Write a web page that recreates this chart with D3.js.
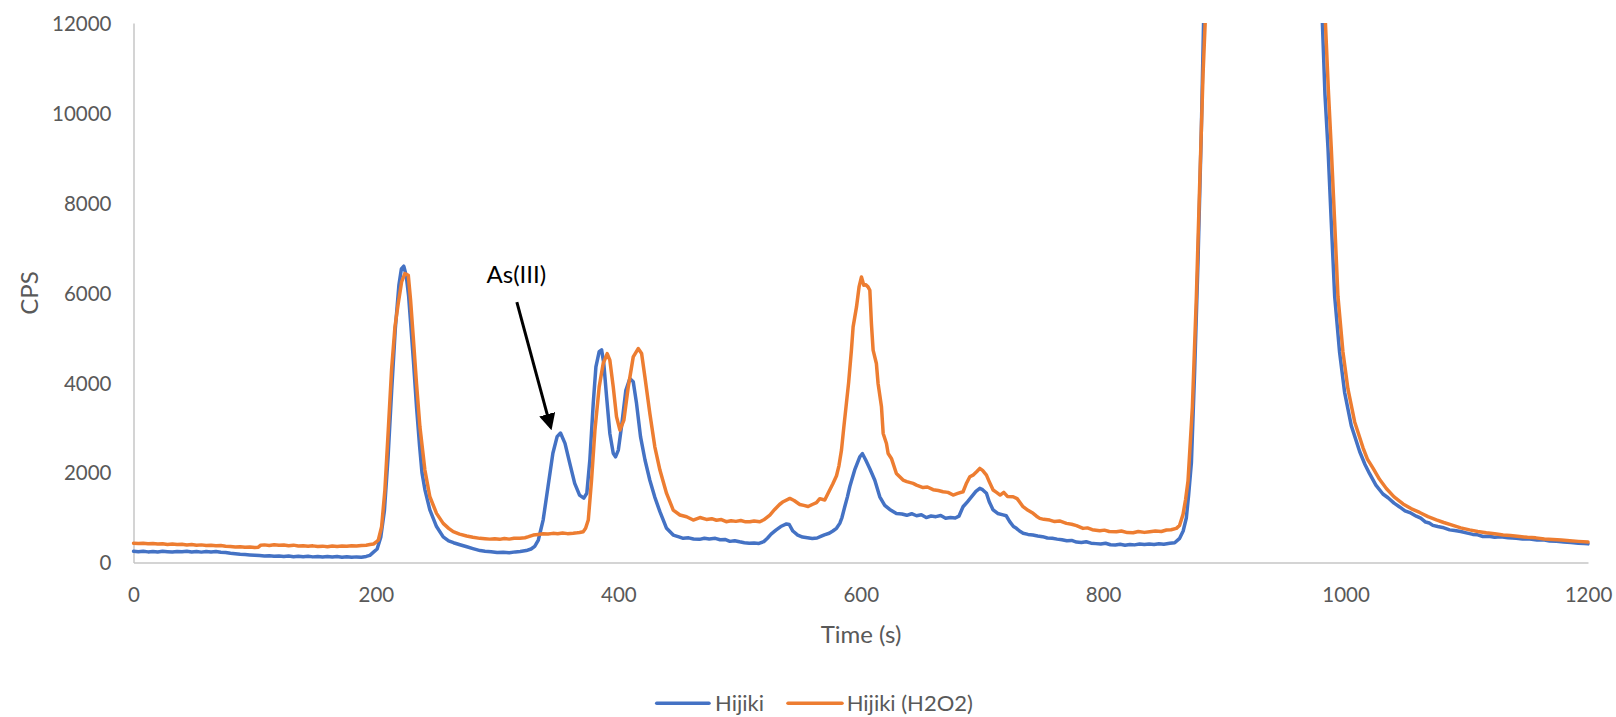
<!DOCTYPE html>
<html>
<head>
<meta charset="utf-8">
<script src="https://cdn.jsdelivr.net/npm/d3@7"></script>
<style>
  html, body { margin: 0; padding: 0; background: #ffffff; }
  svg { display: block; font-family: Lato, "Open Sans", sans-serif; }
</style>
</head>
<body>
<svg id="chart" width="1616" height="717"></svg>
<script>
// ---------- DATA ----------
const seriesNames = ["Hijiki", "Hijiki (H2O2)"];
const xTicks = [0, 200, 400, 600, 800, 1000, 1200];
const yTicks = [0, 2000, 4000, 6000, 8000, 10000, 12000];
const xTitle = "Time (s)";
const yTitle = "CPS";
const annotationText = "As(III)";
const annotationPoint = [352, 2880];

const hijikiTime = [0,4,8,12,16,20,24,28,32,36,40,44,48,52,56,60,64,68,72,76,80,84,88,92,96,100,104,108,112,116,120,124,128,132,136,140,144,148,152,156,160,164,168,172,176,180,184,188,192,195,198,201,204,207,210,213,216,219,221,223,225,227,229,231,233.5,236,238,240.5,244.5,250,255.5,260,264,270,275,280,286,290,295,300,305,310,315,319,324,328,331,334,338,342,346,349.5,352.3,356,360,364,368,371.5,374,376.5,379.3,381.5,384.2,386.2,388,390.3,393,395.8,397.7,400,402.6,406.2,409.5,412.3,415,418.3,422,426,430,434.3,439.8,445.3,450,453.5,458,462,467,471,475,480,484,488,492,496,500,504,508,512,516,520,523,526,530,534,538.7,541,544,548,552,556,560,564,567,570,574,577,580,582.7,584.5,586.8,589,591,595,599.2,601.4,604.1,607.4,611.6,615.7,619.8,623.9,629.4,634,638,642,646,650,654,658,662,666,670,674,678,681,684.4,688,692,695,698.2,700.5,703.7,706,709.2,713,717.4,720,722.9,726,728.4,731,734,738,742,746,750,754,758,762,766,770,774,778,782,786,790,794,798,802,806,810,814,818,822,826,830,834,838,842,846,850,855,859,863.1,866,868.6,870.5,872.8,875.5,878.3,881,882.9,885,890,900,930,960,975,980.8,983,985.5,988.2,991,995,999.2,1004.7,1011.6,1016,1019.8,1025,1030.8,1035,1040,1044.6,1049,1053,1058.3,1062,1066,1069,1072,1076,1080,1085.8,1090,1095,1099.6,1105,1109,1113.3,1118,1123,1128,1134,1140.8,1146,1152,1158,1163,1168.3,1174,1180,1186,1192,1197,1200];
const hijikiCPS = [250,238,252,236,247,233,249,240,232,246,238,250,235,244,231,247,236,243,228,222,205,196,182,176,168,160,153,146,150,138,147,133,145,130,141,128,137,125,135,122,132,120,131,118,127,115,125,118,135,160,230,300,560,1150,2330,3830,5200,6180,6530,6590,6380,5920,5200,4460,3460,2600,2000,1610,1170,800,570,480,440,390,350,310,265,250,240,222,230,218,236,245,265,300,360,500,950,1690,2430,2800,2880,2650,2200,1760,1500,1430,1540,2280,3540,4350,4690,4730,4430,3690,2870,2430,2350,2500,3020,3830,4090,4020,3540,2800,2280,1830,1460,1130,760,610,570,537,548,522,515,540,525,538,505,512,470,485,460,440,428,436,425,465,540,630,720,800,858,845,700,610,565,550,535,545,580,615,650,700,760,870,1000,1240,1460,1690,2060,2350,2420,2280,2090,1830,1460,1270,1180,1090,1080,1050,1085,1040,1060,1000,1035,1020,1045,985,1000,990,1030,1240,1350,1480,1580,1650,1620,1540,1350,1170,1090,1060,1040,910,800,760,700,650,625,611,590,575,545,540,520,505,485,492,455,445,462,430,420,412,428,395,390,405,385,400,392,410,398,412,400,418,405,426,440,537,700,990,1500,2220,4280,6745,9620,12100,16000,28000,45000,60000,45000,25000,12050,10400,9211,7567,5922,4689,3785,3045,2469,2180,1976,1720,1524,1440,1320,1236,1150,1110,1030,985,900,880,825,800,780,726,710,690,660,625,615,578,585,560,570,548,537,520,525,500,505,479,470,455,445,430,425,414];

const h2o2Time = [0,4,8,12,16,20,24,28,32,36,40,44,48,52,56,60,64,68,72,76,80,84,88,92,96,100,103,105,108,112,116,120,124,128,132,136,140,144,148,152,156,160,164,168,172,176,180,184,188,192,195,198,200,202,204.7,207.4,210.2,212.9,215.7,218.4,221.2,223.9,226.7,228.6,230.8,233.5,236.3,240.4,244.5,250,255.5,260,263.8,269,274.8,280,285.8,290,294,298,302,306,310,314,318.8,323,326,329.8,334,338,342,346,350,354,358,362.8,366,368,371,373,375.2,377.9,380.7,384.2,387.5,390.8,393,395.8,398.5,401.3,404.6,408.2,412.3,416.4,419.2,421.9,426,430.1,434.3,439.8,445.3,450.8,456.3,461.8,467.3,472.7,477,481,485,489,493,497,501,505,508.5,512,516.7,520,525,529,533,536,541.5,545,549.7,553,556.6,560,563.5,566.2,570.3,574.4,577,580,582,584.1,586,588.2,590,592.3,593.7,595.1,596.5,598.6,600.6,602.5,604,606,607.5,608.8,610.2,612.9,614.3,617.1,618.5,621.2,622.6,625.3,629.4,634.9,638,643.2,646,651.4,655,659.7,664,667.9,672,676.2,680,684.4,687,690,693,696,698.2,700.5,703.7,706,709.2,712,715,718,721,725.7,729,733.9,738,742.2,745,747.7,751,755.9,760,764,769.7,774,778,783.4,787,791,797.2,801,805,810.9,815,820,824.7,829,834,838.4,843,848,852.2,856,860.4,863,865.9,868,870,873.6,876.9,879.6,882.4,884.3,887,895,930,965,978,983.3,985.8,988.2,991,993.7,997.8,1001.9,1007.5,1014.4,1018,1022.6,1028,1033.6,1040,1047.4,1054,1061.1,1068,1074.9,1081,1088.6,1095,1102.3,1109,1116.1,1123,1130,1136,1143.6,1150,1157,1164,1171.1,1178,1185,1192,1200];
const h2o2CPS = [430,422,428,415,425,410,418,402,412,398,405,390,398,384,392,378,386,372,378,362,355,345,352,338,346,332,340,385,392,380,396,384,390,374,386,368,372,360,370,355,364,352,368,358,366,360,372,365,378,385,400,411,450,500,796,1611,2944,4278,5241,5759,6241,6426,6389,5833,5019,3981,3019,2056,1463,1093,870,760,685,630,589,560,537,528,520,530,515,535,520,540,537,550,575,611,625,640,632,648,640,655,642,650,660,668,685,760,944,1833,2944,3907,4426,4648,4500,3907,3241,2944,3167,3907,4574,4759,4648,4130,3315,2574,2056,1537,1167,1056,1019,944,1000,958,975,940,955,907,930,915,935,905,907,925,907,950,1056,1180,1290,1352,1426,1380,1290,1270,1245,1290,1330,1420,1389,1611,1750,1930,2150,2500,3000,3550,4000,4722,5241,5463,5685,6130,6352,6167,6180,6130,6056,5315,4722,4426,3981,3463,2870,2648,2426,2315,1981,1833,1800,1759,1722,1667,1680,1620,1600,1574,1560,1500,1537,1574,1750,1907,1950,2030,2093,2050,1944,1800,1611,1560,1500,1560,1470,1463,1420,1241,1160,1093,1030,981,960,944,910,925,870,850,820,759,770,730,707,720,690,685,700,665,663,690,670,685,700,690,722,730,759,825,1071,1400,1811,3456,5922,8389,10856,12100,18000,35000,62000,40000,22000,12050,10500,9211,7567,5922,4689,3867,3127,2551,2300,2099,1850,1647,1460,1302,1200,1113,1020,948,890,825,770,726,690,660,640,610,600,578,560,548,525,512,500,485,470,455];

const seriesColors = ["#4472C4", "#ED7D31"];

// ---------- CHART ----------
const svg = d3.select("#chart");
const plot = { left: 133.5, right: 1588, top: 23, bottom: 562.5 };

const x = d3.scaleLinear().domain([0, 1200]).range([plot.left, plot.right]);
const y = d3.scaleLinear().domain([0, 12000]).range([plot.bottom, plot.top]);

const defs = svg.append("defs");
defs.append("clipPath").attr("id", "plotClip")
  .append("rect")
  .attr("x", plot.left - 2).attr("y", plot.top)
  .attr("width", plot.right - plot.left + 4).attr("height", plot.bottom - plot.top + 2);

// y axis
const yAxis = svg.append("g")
  .attr("transform", `translate(${plot.left},0)`)
  .call(d3.axisLeft(y).tickValues(yTicks).tickSize(0).tickSizeOuter(0).tickPadding(22).tickFormat(d3.format("d")));
yAxis.select(".domain").attr("stroke", "#c6c6c6").attr("stroke-width", 1.5);
yAxis.selectAll("text").attr("fill", "#595959").attr("font-size", 20.5).attr("font-family", "Lato").attr("dy", "0.36em");

// x axis
const xAxis = svg.append("g")
  .attr("transform", `translate(0,${plot.bottom})`)
  .call(d3.axisBottom(x).tickValues(xTicks).tickSize(0).tickSizeOuter(0).tickFormat(d3.format("d")));
xAxis.select(".domain").attr("stroke", "#c6c6c6").attr("stroke-width", 1.5);
xAxis.selectAll("text").attr("fill", "#595959").attr("font-size", 20.5).attr("font-family", "Lato")
  .attr("y", 32.5).attr("dy", "0.36em");

// axis titles
svg.append("text")
  .attr("x", 861).attr("y", 634).attr("dy", "0.36em")
  .attr("text-anchor", "middle").attr("fill", "#595959")
  .attr("font-size", 24).attr("font-family", "Lato")
  .text(xTitle);

svg.append("text")
  .attr("transform", "translate(29,293) rotate(-90)")
  .attr("dy", "0.36em")
  .attr("text-anchor", "middle").attr("fill", "#595959")
  .attr("font-size", 24).attr("font-family", "Lato")
  .text(yTitle);

// lines
const line = d3.line().x(d => x(d[0])).y(d => y(d[1]));
const allSeries = [
  d3.zip(hijikiTime, hijikiCPS),
  d3.zip(h2o2Time, h2o2CPS)
];
const lines = svg.append("g").attr("clip-path", "url(#plotClip)");
allSeries.forEach((data, i) => {
  lines.append("path")
    .datum(data)
    .attr("fill", "none")
    .attr("stroke", seriesColors[i])
    .attr("stroke-width", 3.5)
    .attr("stroke-linejoin", "round")
    .attr("stroke-linecap", "round")
    .attr("d", line);
});

// annotation
defs.append("marker")
  .attr("id", "arrowHead")
  .attr("viewBox", "0 0 10 10")
  .attr("refX", 8).attr("refY", 5)
  .attr("markerWidth", 5.5).attr("markerHeight", 5.5)
  .attr("markerUnits", "strokeWidth")
  .attr("orient", "auto")
  .append("path").attr("d", "M0,0 L10,5 L0,10 Z").attr("fill", "#000");

const tip = [x(annotationPoint[0]) - 9.5, y(annotationPoint[1]) - 6];
const tail = [tip[0] - 33.8, tip[1] - 124.8];
svg.append("line")
  .attr("x1", tail[0]).attr("y1", tail[1])
  .attr("x2", tip[0]).attr("y2", tip[1])
  .attr("stroke", "#000").attr("stroke-width", 3)
  .attr("marker-end", "url(#arrowHead)");

svg.append("text")
  .attr("x", tail[0] - 0.5).attr("y", tail[1] - 19)
  .attr("text-anchor", "middle").attr("fill", "#000")
  .attr("font-size", 24).attr("font-family", "Lato")
  .text(annotationText);

// legend
const legendItems = [
  { x1: 656.7, x2: 709, tx: 715 },
  { x1: 788, x2: 842, tx: 846.7 }
];
const legend = svg.append("g");
legendItems.forEach((it, i) => {
  legend.append("line")
    .attr("x1", it.x1).attr("x2", it.x2)
    .attr("y1", 703.3).attr("y2", 703.3)
    .attr("stroke", seriesColors[i]).attr("stroke-width", 3.5)
    .attr("stroke-linecap", "round");
  legend.append("text")
    .attr("x", it.tx).attr("y", 703).attr("dy", "0.36em")
    .attr("fill", "#595959").attr("font-size", 22).attr("font-family", "Lato")
    .text(seriesNames[i]);
});
</script>
</body>
</html>
